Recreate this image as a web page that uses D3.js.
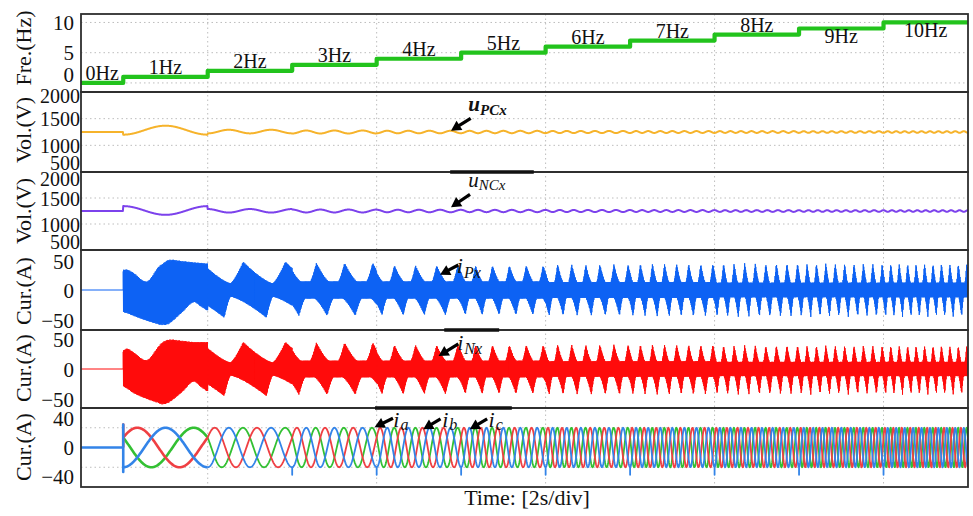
<!DOCTYPE html>
<html><head><meta charset="utf-8">
<script src="https://d3js.org/d3.v7.min.js"></script>
<style>
html,body{margin:0;padding:0;background:#fff;}
svg text{font-family:"Liberation Serif","Times New Roman",Times,serif;fill:#111;}
</style></head>
<body><svg id="c" width="973" height="516"></svg>
<script>
// ---------------- data ----------------
const freqLevels=[0,1,2,3,4,5,6,7,8,9,10];
const levelStart=[-0.5,0,1,2,3,4,5,6,7,8,9];
const timeEnd=10;
const freqLabels=["0Hz","1Hz","2Hz","3Hz","4Hz","5Hz","6Hz","7Hz","8Hz","9Hz","10Hz"];
const freqLabelBelow=[false,false,false,false,false,false,false,false,false,true,true];
const freqTicks=[0,5,10];
const volTicks=[500,1000,1500,2000];
const volGrid=[1000,1500];
const armTicks=[-50,0,50];
const phaseTicks=[-40,0,40];
const phaseGrid=[-27.5,27.5];
const timeGrid=[1,3,5,7,9];
const axisTitles=["Fre.(Hz)","Vol.(V)","Vol.(V)","Cur.(A)","Cur.(A)","Cur.(A)"];
const timeTitle="Time: [2s/div]";

// capacitor voltages, one entry per frequency segment 1..10 Hz
const capBase=1250;
const uPCxOffset=[34,8,0,0,0,0,0,0,0,0];
const uPCxAmp=[84,34,28,24,22,20,18,17,16,15];
const uNCxOffset=[10,4,0,0,0,0,0,0,0,0];
const uNCxAmp=[84,34,28,24,22,20,18,17,16,15];

// arm-current envelopes in the 1 Hz segment
const env1Time=[0,0.05,0.12,0.28,0.42,0.46,0.54,0.70,0.83,0.92,1.0];
const iPxUp1=[33,33,28,14,38,42,49,47,45,44,43];
const iPxLo1=[-36,-38,-42,-50,-56,-57,-55,-36,-20,-27,-34];
const iNxUp1=[31,34,28,15,38,44,49,47,45,45,45];
const iNxLo1=[-29,-33,-40,-50,-57,-59,-56,-38,-21,-30,-38];
// arm-current envelope per segment 2..10 Hz
const iPxCore=[11,14,14,14,13,13,12,12,12];
const iPxPeak=[46,44,40,40,42,43,44,44,44];
const iPxTrough=[45,42,41,41,42,43,44,44,44];
const iNxCore=[11,14,14,14,13,13,12,12,12];
const iNxPeak=[45,44,40,40,41,41,40,40,40];
const iNxTrough=[45,43,42,42,43,43,43,43,43];
const peakPhase=[0.84,0.86,0.84,0.85,0.85,0.85,0.85,0.85,0.85];
const troughPhase=[0.39,0.24,0.26,0.25,0.25,0.25,0.25,0.25,0.25];
const peakRise=[0.30,0.22,0.22,0.22,0.22,0.22,0.22,0.22,0.22];
const peakFall=[0.70,0.45,0.45,0.42,0.40,0.38,0.36,0.35,0.35];
const troughFall=[0.85,0.45,0.45,0.42,0.40,0.38,0.36,0.35,0.35];
const troughRise=[0.15,0.22,0.22,0.22,0.22,0.22,0.22,0.22,0.22];

// three-phase output currents
const phaseAmp=27.5;
const stepSpike=-38;
const startSpikeBlue=[32,-34];
const startSpikeRed=[32];

// annotations (panel index, data coordinates)
const annotations=[
 {p:1,main:"u",sub:"PCx",bold:true,tip:[3.88,1274],tail:[4.113,1507],text:[4.085,1649],subDy:4},
 {p:2,main:"u",sub:"NCx",tip:[3.88,1321],tail:[4.105,1571],text:[4.083,1717],subDy:3},
 {p:3,main:"i",sub:"Px",tip:[3.75,24.9],tail:[3.967,40.6],text:[3.948,27.6],subDy:5},
 {p:4,main:"i",sub:"Nx",tip:[3.733,21.7],tail:[3.967,41.7],text:[3.953,31.7],subDy:4},
 {p:5,main:"i",sub:"a",tip:[2.975,28.1],tail:[3.193,40.7],text:[3.197,29],subDy:3},
 {p:5,main:"i",sub:"b",tip:[3.551,25.3],tail:[3.756,39.7],text:[3.776,29],subDy:3},
 {p:5,main:"i",sub:"c",tip:[4.102,25.3],tail:[4.308,39.7],text:[4.324,29],subDy:3}
];
const borderAccents=[{after:1,t0:3.87,t1:4.86},{after:3,t0:3.8,t1:4.45},{after:4,t0:2.98,t1:4.6}];

// ---------------- layout ----------------
const svg=d3.select("#c");
const x=d3.scaleLinear().domain([-0.5,10]).range([81,968]);
const panels=[{top:14,bottom:92},{top:92,bottom:172},{top:172,bottom:250},{top:250,bottom:330},{top:330,bottom:408},{top:408,bottom:487}];
const ys=[
 d3.scaleLinear().domain([-1.5,11.4]).range([92,14]),
 d3.scaleLinear().domain([500,2000]).range([172,92]),
 d3.scaleLinear().domain([500,2000]).range([250,172]),
 d3.scaleLinear().domain([-65,65]).range([330,250]),
 d3.scaleLinear().domain([-65,65]).range([408,330]),
 d3.scaleLinear().domain([-55,55]).range([487,408])
];
const X0=81,X1=968;

const defs=svg.append("defs");
panels.forEach((p,i)=>{
  defs.append("clipPath").attr("id","clip"+i).append("rect")
    .attr("x",X0).attr("y",p.top).attr("width",X1-X0).attr("height",p.bottom-p.top);
});

// grids
const grid=svg.append("g").attr("stroke","#bdbdbd").attr("stroke-width",1).attr("stroke-dasharray","1.5,3");
timeGrid.forEach(t=>grid.append("line").attr("x1",x(t)).attr("x2",x(t)).attr("y1",14).attr("y2",487));
const hgrid=(i,vals)=>vals.forEach(v=>grid.append("line").attr("x1",X0).attr("x2",X1).attr("y1",ys[i](v)).attr("y2",ys[i](v)));
hgrid(0,freqTicks);hgrid(1,volGrid);hgrid(2,volGrid);hgrid(5,phaseGrid);

// helpers
const seg=t=>t>=9?10:Math.floor(t+1e-9)+1;
const N=2625, dt=0.004;
const tS=d3.range(N+1).map(i=>-0.5+i*dt);

// smooth curve through read envelope points (cubic Hermite, Catmull-Rom tangents)
function smoothThrough(ts,vs){
  const n=ts.length;
  const m=ts.map((_,i)=>{
    const a=Math.max(0,i-1),b=Math.min(n-1,i+1);
    return (vs[b]-vs[a])/(ts[b]-ts[a]);
  });
  return t=>{
    let i=d3.bisectRight(ts,t)-1; i=Math.max(0,Math.min(n-2,i));
    const h=ts[i+1]-ts[i], u=(t-ts[i])/h;
    const h00=2*u*u*u-3*u*u+1,h10=u*u*u-2*u*u+u,h01=-2*u*u*u+3*u*u,h11=u*u*u-u*u;
    return h00*vs[i]+h10*h*m[i]+h01*vs[i+1]+h11*h*m[i+1];
  };
}

// ---- panel 1: frequency staircase
const fPts=freqLevels.map((f,i)=>[levelStart[i],f]);
fPts.push([timeEnd,freqLevels[freqLevels.length-1]]);
svg.append("path").attr("clip-path","url(#clip0)")
 .attr("d",d3.line().x(d=>x(d[0])).y(d=>ys[0](d[1])).curve(d3.curveStepAfter)(fPts))
 .attr("fill","none").attr("stroke","#22c31c").attr("stroke-width",4.2).attr("stroke-linejoin","round");
freqLabels.forEach((lab,i)=>{
  const t0=levelStart[i], t1=i+1<levelStart.length?levelStart[i+1]:timeEnd;
  const yy=ys[0](freqLevels[i])+(freqLabelBelow[i]?14.5:-2.5);
  svg.append("text").attr("x",x((t0+t1)/2)).attr("y",yy).attr("text-anchor","middle")
    .attr("font-size",20).text(lab);
});

// ---- panels 2,3: capacitor voltages
function capV(t,off,amp,sign){
  if(t<0) return capBase;
  const k=seg(t), tau=t-(k-1);
  return capBase+off[k-1]+sign*amp[k-1]*Math.cos(2*Math.PI*k*tau);
}
function drawLine(i,pts,color,w){
  svg.append("path").attr("clip-path","url(#clip"+i+")")
   .attr("d",d3.line().x(d=>x(d[0])).y(d=>ys[i](d[1]))(pts))
   .attr("fill","none").attr("stroke",color).attr("stroke-width",w).attr("stroke-linejoin","round");
}
drawLine(1,tS.map(t=>[t,capV(t,uPCxOffset,uPCxAmp,-1)]),"#f6b32b",2);
drawLine(2,tS.map(t=>[t,capV(t,uNCxOffset,uNCxAmp,1)]),"#7c42ec",2);

// ---- panels 4,5: arm currents
function makeEnv(up1,lo1,core,peak,trough){
  const su=smoothThrough(env1Time,up1);
  const sl=smoothThrough(env1Time,lo1);
  return t=>{
    const k=seg(t);
    if(k===1) return [su(t),sl(t)];
    const j=k-2, phi=((t-(k-1))*k)%1;
    const r=peakRise[j], f=peakFall[j];
    let du=phi-peakPhase[j]; du=((du+r)%1+1)%1-r;
    const gu=du<0?1+du/r:1-du/f;
    const s=troughFall[j], q=troughRise[j];
    let dl=phi-troughPhase[j]; dl=((dl+s)%1+1)%1-s;
    const gl=dl<0?1+dl/s:1-dl/q;
    const U=core[j]+(peak[j]-core[j])*Math.pow(Math.max(0,gu),1.35);
    const L=-(core[j]+(trough[j]-core[j])*Math.pow(Math.max(0,gl),1.35));
    return [U,L];
  };
}
function armPts(env){
  const pts=[[-0.5,0],[0,0]];
  const st=0.003, M=Math.round(10/st);
  for(let i=0;i<=M;i++){
    const t=i*st; const [U,L]=env(t);
    const c=(U+L)/2,h=(U-L)/2;
    const s=(i%2?-1:1)*(0.92+0.08*Math.abs(Math.sin(i*0.913)));
    pts.push([t,c+h*s]);
  }
  return pts;
}
function drawArm(i,pts,color){
  svg.append("path").attr("clip-path","url(#clip"+i+")")
   .attr("d",d3.line().x(d=>x(d[0])).y(d=>ys[i](d[1]))(pts))
   .attr("fill","none").attr("stroke",color).attr("stroke-width",1).attr("stroke-linejoin","bevel");
}
drawArm(3,armPts(makeEnv(iPxUp1,iPxLo1,iPxCore,iPxPeak,iPxTrough)),"#0d62f4");
drawArm(4,armPts(makeEnv(iNxUp1,iNxLo1,iNxCore,iNxPeak,iNxTrough)),"#ff0b0b");

// ---- panel 6: three-phase currents
const phaseShift={a:0,b:2*Math.PI/3,c:-2*Math.PI/3};
function phasePts(shift,from,to,spikes){
  const pts=[];
  const i0=Math.round(from/dt), i1=Math.round(to/dt);
  for(let i=i0;i<=i1;i++){
    const t=i*dt; const k=seg(t); const fr=(t-(k-1))*k;
    const v=-phaseAmp*Math.cos(2*Math.PI*fr+shift);
    pts.push([t,v]);
    if(spikes && i>i0 && Math.abs(t-Math.round(t))<1e-9 && t>=1 && t<=9){
      pts.push([t,stepSpike]); pts.push([t,v]);
    }
  }
  return pts;
}
const colG="#33c033", colR="#ef3f43", colB="#3384e8";
drawLine(5,phasePts(phaseShift.c,0,1,false),colG,2.6);
drawLine(5,phasePts(phaseShift.c,1,10,false),colG,1.8);
drawLine(5,[[0,0],[0,startSpikeRed[0]]].concat(phasePts(phaseShift.b,0,1,false)),colR,2.6);
drawLine(5,phasePts(phaseShift.b,1,10,false),colR,1.8);
drawLine(5,[[-0.5,0],[0,0],[0,startSpikeBlue[0]],[0,startSpikeBlue[1]]].concat(phasePts(phaseShift.a,0,1,false)),colB,2.6);
drawLine(5,phasePts(phaseShift.a,1,10,true),colB,1.8);

// ---- panel frames
panels.forEach(p=>{
  svg.append("rect").attr("x",X0).attr("y",p.top).attr("width",X1-X0).attr("height",p.bottom-p.top)
   .attr("fill","none").attr("stroke","#2e2e2e").attr("stroke-width",1.8);
});
borderAccents.forEach(b=>{
  const yy=panels[b.after].bottom;
  svg.append("line").attr("x1",x(b.t0)).attr("x2",x(b.t1)).attr("y1",yy).attr("y2",yy)
   .attr("stroke","#111").attr("stroke-width",3.5);
});

// ---- axes
const tickSets=[freqTicks,volTicks,volTicks,armTicks,armTicks,phaseTicks];
const tickX=[74,80,80,74,74,74];
const tickSize=[21,20,20,21,21,21];
const tickNudge=[{0:-1},{2000:10,500:-3},{2000:13,500:-2},{50:9.5},{},{}];
tickSets.forEach((ticks,i)=>{
  const g=svg.append("g").attr("transform","translate("+tickX[i]+",0)")
    .call(d3.axisLeft(ys[i]).tickValues(ticks).tickSize(0).tickPadding(0).tickFormat(d3.format("d")));
  g.select(".domain").remove();
  g.selectAll("text").attr("font-size",tickSize[i]).attr("font-family","Liberation Serif, Times New Roman, serif").attr("fill","#111")
   .attr("dy",d=>(tickNudge[i][d]!==undefined?tickNudge[i][d]:7)+"px");
});
axisTitles.forEach((s,i)=>{
  const cy=[48,130,211,291,368,447][i];
  svg.append("text").attr("transform","translate(31,"+cy+") rotate(-90)")
   .attr("text-anchor","middle").attr("font-size",22).text(s);
});
svg.append("text").attr("x",527).attr("y",505).attr("text-anchor","middle").attr("font-size",22).text(timeTitle);

// ---- annotations
annotations.forEach(a=>{
  const y=ys[a.p];
  const tx=x(a.tip[0]),ty=y(a.tip[1]),sx=x(a.tail[0]),sy=y(a.tail[1]);
  const dx=tx-sx,dy=ty-sy,len=Math.hypot(dx,dy),ux=dx/len,uy=dy/len;
  const hl=10,hw=5.5,bx=tx-ux*hl,by=ty-uy*hl;
  svg.append("line").attr("x1",sx).attr("y1",sy).attr("x2",bx+ux*2).attr("y2",by+uy*2)
    .attr("stroke","#000").attr("stroke-width",3.2);
  svg.append("path").attr("d","M"+tx+","+ty+"L"+(bx-uy*hw)+","+(by+ux*hw)+"L"+(bx+uy*hw)+","+(by-ux*hw)+"Z").attr("fill","#000");
  const t=svg.append("text").attr("x",x(a.text[0])).attr("y",y(a.text[1]))
    .attr("font-style","italic").attr("font-weight",a.bold?"bold":"normal");
  t.append("tspan").attr("font-size",a.main==="u"?21:22).text(a.main);
  t.append("tspan").attr("font-size",a.main==="u"?15:16).attr("dy",a.subDy).attr("dx",a.main==="i"?1:0).text(a.sub);
});
</script>
</body></html>
